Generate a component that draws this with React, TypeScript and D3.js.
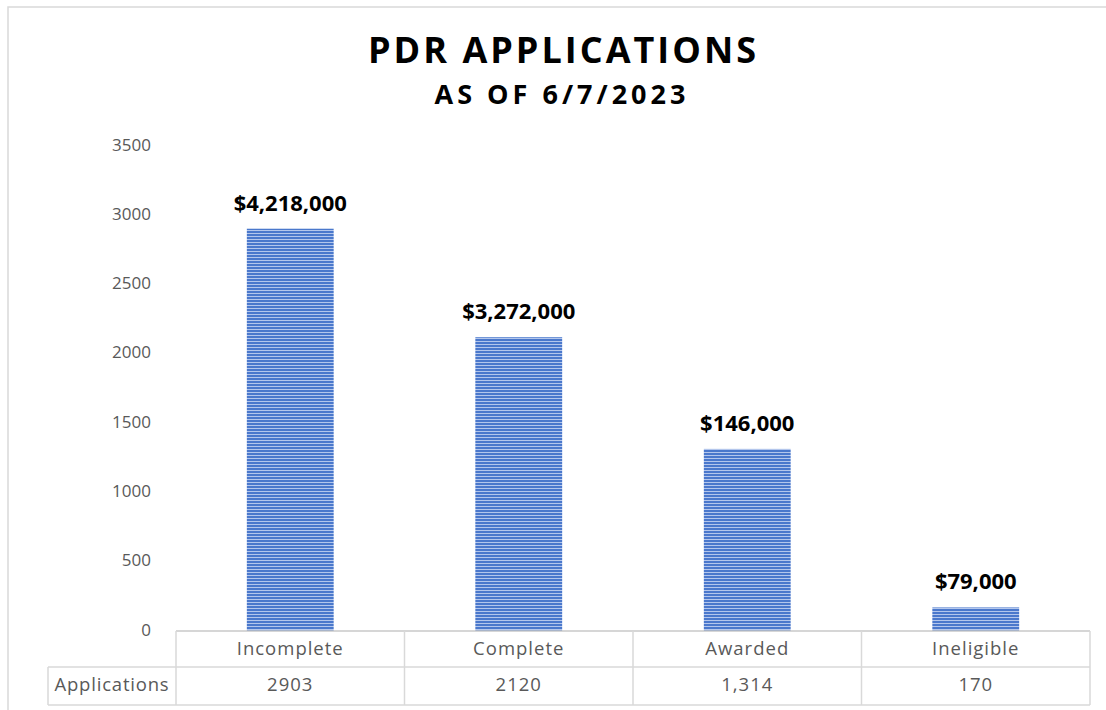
import React from "react";
import * as d3 from "d3";

const categories = ["Incomplete", "Complete", "Awarded", "Ineligible"];
const applications = [2903, 2120, 1314, 170];
const tableLabels = ["2903", "2120", "1,314", "170"];
const dollarLabels = ["$4,218,000", "$3,272,000", "$146,000", "$79,000"];
const yTicks = [0, 500, 1000, 1500, 2000, 2500, 3000, 3500];
const seriesName = "Applications";
const title = "PDR APPLICATIONS";
const subtitle = "AS OF 6/7/2023";

const W = 1106;
const H = 710;
const FONT = "'Open Sans', 'Noto Sans', sans-serif";

export default function App() {
  const x = d3.scaleBand<string>().domain(categories).range([176, 1090]).paddingInner(0.62).paddingOuter(0.31);
  const y = d3.scaleLinear().domain([0, 3500]).range([631, 146]);
  const cellEdges = categories.map((_, i) => 176 + (i * (1090 - 176)) / categories.length);
  const lineColor = "#d9d9d9";
  const rowTop = 631;
  const rowMid = 667;
  const rowBot = 705;

  return (
    <svg width={W} height={H} style={{ position: "absolute", left: 0, top: 0, background: "#fff" }}>
      <defs>
        <pattern id="stripes" width="6" height="3" patternUnits="userSpaceOnUse">
          <rect width="6" height="3" fill="#4a78cc" />
          <rect y="2" width="6" height="1" fill="#b3c6ec" />
        </pattern>
      </defs>
      <rect x={8} y={7} width={W + 10} height={H + 10} fill="#fff" stroke={lineColor} strokeWidth={1.5} />

      <text x={563.5} y={53} textAnchor="middle" dominantBaseline="middle" fontFamily={FONT} fontWeight={700} fontSize={36} letterSpacing={3} fill="#000">
        {title}
      </text>
      <text x={562} y={97} textAnchor="middle" dominantBaseline="middle" fontFamily={FONT} fontWeight={700} fontSize={27} letterSpacing={4} fill="#000">
        {subtitle}
      </text>

      {yTicks.map((t) => (
        <text key={t} x={151} y={y(t)} textAnchor="end" dominantBaseline="middle" fontFamily={FONT} fontSize={17} fill="#595959">
          {t}
        </text>
      ))}

      {categories.map((c, i) => (
        <g key={c}>
          <rect x={x(c)} y={y(applications[i])} width={x.bandwidth()} height={y(0) - y(applications[i])} fill="url(#stripes)" />
          <text x={(x(c) as number) + x.bandwidth() / 2} y={y(applications[i]) - 24} textAnchor="middle" dominantBaseline="middle" fontFamily={FONT} fontWeight={700} fontSize={22} fill="#000">
            {dollarLabels[i]}
          </text>
        </g>
      ))}

      {/* table */}
      <line x1={176} x2={1090} y1={rowTop} y2={rowTop} stroke="#c8c8c8" strokeWidth={1.5} />
      <line x1={48} x2={1090} y1={rowMid} y2={rowMid} stroke={lineColor} strokeWidth={1.5} />
      <line x1={48} x2={1090} y1={rowBot} y2={rowBot} stroke={lineColor} strokeWidth={1.5} />
      <line x1={48} x2={48} y1={rowMid} y2={rowBot} stroke={lineColor} strokeWidth={1.5} />
      {[...cellEdges, 1090].map((ex, i) => (
        <line key={i} x1={ex} x2={ex} y1={rowTop} y2={rowBot} stroke={lineColor} strokeWidth={1.5} />
      ))}
      {categories.map((c, i) => {
        const cx = (x(c) as number) + x.bandwidth() / 2;
        return (
          <g key={c}>
            <text x={cx} y={(rowTop + rowMid) / 2 + 1} textAnchor="middle" dominantBaseline="middle" fontFamily={FONT} fontSize={18.5} letterSpacing={1} fill="#595959">
              {c}
            </text>
            <text x={cx} y={(rowMid + rowBot) / 2} textAnchor="middle" dominantBaseline="middle" fontFamily={FONT} fontSize={18.5} letterSpacing={1} fill="#595959">
              {tableLabels[i]}
            </text>
          </g>
        );
      })}
      <text x={112} y={(rowMid + rowBot) / 2} textAnchor="middle" dominantBaseline="middle" fontFamily={FONT} fontSize={18.5} letterSpacing={0.8} fill="#595959">
        {seriesName}
      </text>
    </svg>
  );
}
